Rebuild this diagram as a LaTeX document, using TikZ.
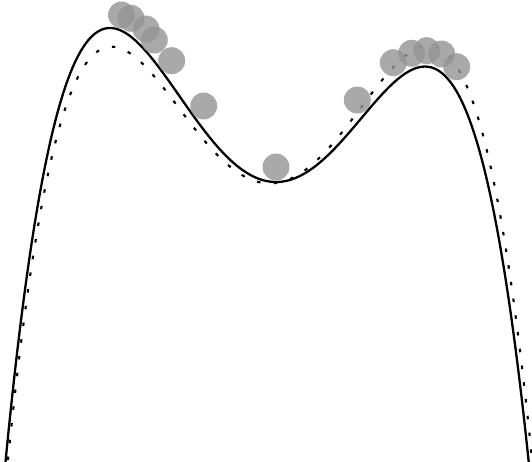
\documentclass[tikz,border=0pt]{standalone}
\usetikzlibrary{positioning}

\begin{document}
\begin{tikzpicture}[
          % One unit = one pixel of the 532 x 461 frame
          x=0.02cm, y=0.02cm,
          % Curve styles
          truecurve/.style={line width=1.3pt, draw=black},
          fitcurve/.style={line width=1.2pt, draw=black, dash pattern=on 2pt off 7.6pt},
          % Sample point style
          sample/.style={circle, fill=black!42, opacity=0.8, minimum size=0.54cm, inner sep=0pt},
          % Curve shapes (v is the shifted, scaled abscissa)
          declare function={
            truepoly(\v) = 279 + \v*\v*(107.68 + \v*(-4.934 - 21.7675*\v));
            fitshift(\v) = -0.443 + \v*(13.536 + \v*(1.0738 - 0.3203*\v));
          }
        ]
          \useasboundingbox (0,0) rectangle (532,461);

          % ==========================================
          % 1. Curves
          % ==========================================
          \begin{scope}
            \clip (0,0) rectangle (532,461);
            % Solid curve
            \draw[truecurve] plot[domain=0:532, samples=220, smooth]
              (\x, {truepoly((\x-276)/100)});
            % Dotted curve
            \draw[fitcurve] plot[domain=0:532, samples=220, smooth]
              (\x, {truepoly((\x-276)/100) + fitshift((\x-280)/100)});
          \end{scope}

          % ==========================================
          % 2. Sample points
          % ==========================================
          \node[sample] (sample_1) at (121.5,446) {};
          \node[sample] (sample_2) at (131,442.7) {};
          \node[sample] (sample_3) at (146,432) {};
          \node[sample] (sample_4) at (154.3,421) {};
          \node[sample] (sample_5) at (171.7,400.3) {};
          \node[sample] (sample_6) at (203.7,355) {};
          \node[sample] (sample_7) at (276,294) {};
          \node[sample] (sample_8) at (357.3,361) {};
          \node[sample] (sample_9) at (393.3,398.3) {};
          \node[sample] (sample_10) at (411.7,407.7) {};
          \node[sample] (sample_11) at (426.7,410.3) {};
          \node[sample] (sample_12) at (441.7,407) {};
          \node[sample] (sample_13) at (456.7,394.3) {};
        \end{tikzpicture}
\end{document}
